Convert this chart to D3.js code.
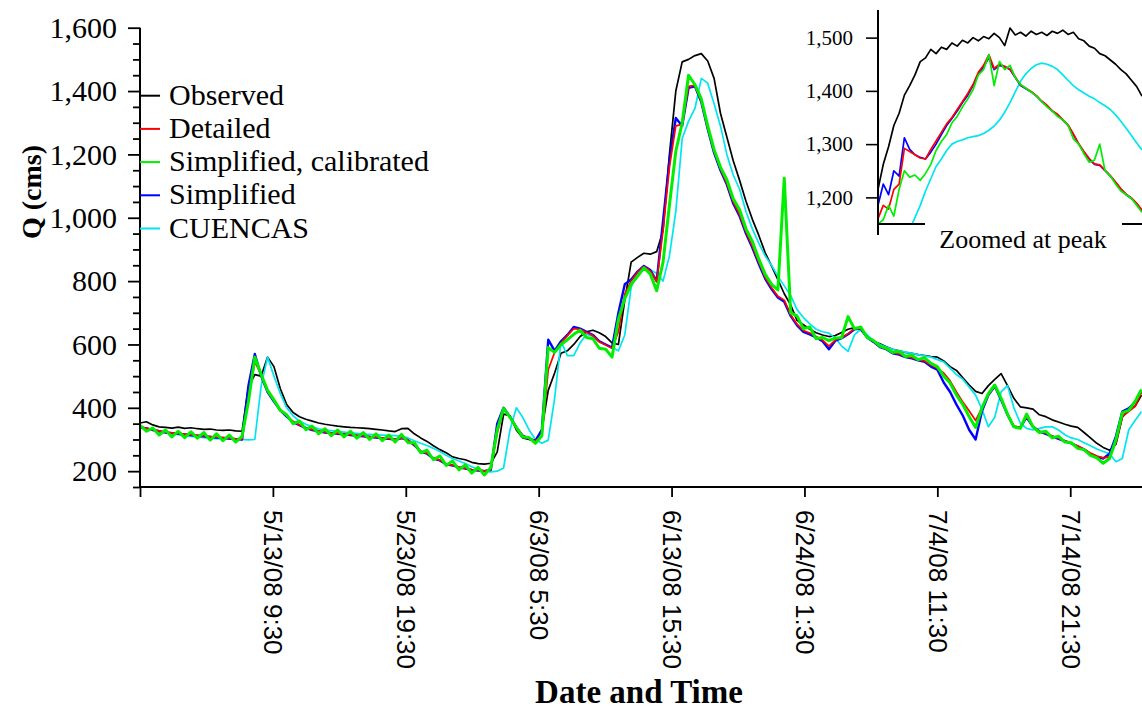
<!DOCTYPE html>
<html>
<head>
<meta charset="utf-8">
<script src="https://cdn.jsdelivr.net/npm/d3@7"></script>
<style>
body { margin: 0; background: #fff; }
svg { display: block; }
</style>
</head>
<body>
<div id="figure"></div>
<script>
// main series, one value every 12 hours starting 5/2/08 23:30
const startDate = new Date(2008, 4, 2, 23, 30);
const stepHours = 12;

const observed = [352,356,346,340,338,336,339,335,337,334,
  332,333,330,329,330,327,326,465,505,500,
  560,530,460,410,385,372,364,358,352,348,
  345,342,340,338,337,336,334,332,330,327,
  325,334,335,318,305,294,280,268,258,245,
  240,236,228,224,222,225,260,380,375,330,
  305,300,297,330,455,510,572,580,600,625,
  640,645,637,625,605,600,740,860,875,888,
  885,893,960,1200,1400,1492,1500,1512,1518,1495,
  1440,1330,1255,1180,1118,1052,995,945,890,848,
  805,760,725,676,662,648,637,630,625,628,
  638,648,653,645,624,610,602,593,585,580,
  575,572,568,565,562,560,548,530,518,495,
  472,452,445,470,490,508,470,430,403,400,
  396,378,372,362,355,348,342,338,322,305,
  288,275,266,285,370,395,405,440];

const detailed = [340,336,331,327,323,321,319,317,315,313,
  311,309,307,306,304,302,301,430,545,505,
  452,422,394,374,357,346,337,331,327,323,
  321,319,317,315,313,311,309,307,305,303,
  301,305,299,283,263,256,241,235,223,219,
  213,209,205,203,201,205,320,395,372,338,
  312,302,296,310,520,575,605,628,650,648,
  638,628,608,598,588,640,760,800,828,846,
  832,798,960,1160,1290,1295,1415,1418,1368,1284,
  1210,1154,1108,1050,1010,955,910,860,812,780,
  752,740,694,664,644,636,625,614,595,614,
  622,634,649,651,623,609,594,586,574,570,
  562,558,552,548,535,525,510,485,450,418,
  390,360,400,442,470,428,380,342,338,372,
  342,326,320,311,304,296,289,280,270,257,
  248,242,245,290,372,388,405,448];

const calibrated = [345,326,336,314,330,308,326,306,324,304,
  322,298,318,296,314,292,310,420,560,505,
  455,425,392,378,350,358,331,342,318,334,
  312,330,308,326,304,322,300,318,296,314,
  292,316,290,290,258,266,236,248,218,232,
  204,220,194,212,188,212,330,398,370,338,
  308,306,288,312,590,575,600,615,632,645,
  622,618,588,585,560,680,745,790,815,842,
  822,770,860,1040,1210,1300,1450,1420,1375,1290,
  1215,1160,1120,1060,1025,965,925,870,822,790,
  772,1125,700,690,650,655,618,622,612,620,
  622,688,650,655,622,612,595,588,575,578,
  562,566,552,558,540,530,500,478,440,410,
  372,338,400,445,472,430,380,340,335,380,
  340,322,326,305,310,292,290,272,268,250,
  242,225,240,300,385,392,420,458];

const simplified = [338,335,330,326,322,320,318,316,314,312,
  310,308,306,305,303,301,300,470,570,500,
  450,420,392,372,355,345,336,330,326,322,
  320,318,316,314,312,310,308,306,304,302,
  300,304,298,282,262,255,240,234,222,218,
  212,208,204,202,200,204,350,400,372,338,
  312,302,296,330,615,580,610,630,655,650,
  640,630,610,600,590,700,790,805,830,848,
  835,800,990,1180,1315,1290,1410,1415,1365,1280,
  1205,1150,1105,1045,1005,950,905,855,808,775,
  748,735,690,660,640,632,622,610,585,612,
  620,632,648,650,622,608,592,585,572,568,
  560,556,550,545,530,520,480,450,410,375,
  330,300,390,440,468,425,378,340,338,370,
  340,325,318,310,302,295,288,278,268,255,
  246,240,255,310,388,398,418,455];

const cuencas = [340,336,330,326,322,318,315,312,310,308,
  306,304,303,302,301,300,300,299,300,470,
  560,500,445,400,375,358,348,340,334,330,
  328,325,323,321,319,317,316,315,314,313,
  312,310,305,296,288,281,272,262,250,240,
  232,224,214,206,200,198,200,210,330,400,
  370,330,300,288,298,430,610,565,565,605,
  632,625,610,600,590,580,630,780,830,835,
  835,825,800,880,1020,1250,1305,1345,1440,1425,
  1360,1290,1200,1135,1090,1020,965,920,880,850,
  815,785,755,710,685,665,648,640,636,620,
  595,578,630,648,630,612,600,592,585,580,
  576,572,568,564,560,552,545,525,505,490,
  465,440,395,340,370,450,470,400,352,335,
  330,335,340,340,330,315,305,300,290,280,
  270,262,255,230,240,330,360,388];

// inset: one value every 1.5 hours starting 6/13/08 19:30
const peakStart = new Date(2008, 5, 13, 19, 30);
const peakStepHours = 1.5;

const peakObserved = [1215,1262,1295,1335,1358,1392,1410,1430,1455,1462,
  1478,1470,1482,1478,1490,1484,1495,1490,1500,1494,
  1502,1498,1508,1500,1485,1518,1505,1510,1503,1512,
  1506,1510,1504,1512,1508,1514,1506,1510,1498,1494,
  1484,1480,1470,1466,1458,1450,1440,1432,1420,1408,
  1390];
const peakDetailed = [1160,1185,1178,1215,1225,1292,1286,1280,1274,1272,
  1290,1306,1322,1338,1350,1365,1380,1395,1412,1435,
  1448,1468,1442,1450,1446,1441,1426,1411,1405,1399,
  1391,1381,1373,1363,1356,1346,1336,1319,1301,1286,
  1273,1263,1261,1251,1241,1229,1216,1206,1199,1189,
  1176];
const peakCalibrated = [1150,1158,1185,1165,1215,1250,1238,1242,1232,1245,
  1262,1288,1305,1318,1340,1352,1370,1385,1402,1430,
  1440,1468,1410,1455,1440,1448,1425,1412,1405,1398,
  1390,1380,1370,1362,1352,1346,1335,1310,1300,1282,
  1266,1270,1300,1250,1240,1225,1212,1205,1198,1185,
  1172];
const peakSimplified = [1185,1225,1205,1250,1240,1312,1290,1280,1275,1272,
  1285,1300,1318,1335,1348,1362,1378,1392,1410,1432,
  1445,1462,1440,1448,1445,1440,1425,1410,1404,1398,
  1390,1380,1372,1362,1355,1345,1335,1318,1300,1285,
  1272,1262,1260,1250,1240,1228,1215,1205,1198,1188,
  1175];
const peakCuencas = [1020,1040,1060,1080,1100,1120,1140,1162,1185,1212,
  1235,1258,1272,1288,1300,1305,1308,1312,1314,1316,
  1320,1326,1334,1345,1360,1378,1398,1418,1432,1442,
  1449,1452,1450,1446,1440,1430,1420,1410,1402,1396,
  1390,1385,1378,1372,1365,1355,1343,1330,1316,1302,
  1289];

const seriesNames = ["Observed", "Detailed", "Simplified, calibrated", "Simplified", "CUENCAS"];
const seriesColors = ["#000000", "#ff0000", "#00ee00", "#0000ff", "#00e5ee"];
const yTicks = [150,200,250,300,350,400,450,500,550,600,650,700,750,800,850,900,950,1000,
  1050,1100,1150,1200,1250,1300,1350,1400,1450,1500,1550,1600];
const peakTicks = [1200, 1300, 1400, 1500];

const hour = 3600 * 1000;
const serif = '"Liberation Serif", "Times New Roman", serif';
const sans = '"Liberation Sans", Arial, sans-serif';

const width = 1142, height = 710;
const svg = d3.select("#figure").append("svg")
    .attr("width", width)
    .attr("height", height);

// main scales
const x = d3.scaleTime()
    .domain([startDate, new Date(+startDate + 1885 * hour)])
    .range([140, 1142]);
const y = d3.scaleLinear().domain([150, 1600]).range([487, 27.7]);

svg.append("clipPath").attr("id", "mainClip")
  .append("rect").attr("x", 140).attr("y", 0).attr("width", 1002).attr("height", 487);

function toRows(values, start, step) {
    return values.map((v, i) => ({ t: new Date(+start + i * step * hour), v: v }));
}

const mainData = [observed, detailed, calibrated, simplified, cuencas]
    .map(s => toRows(s, startDate, stepHours));
const drawOrder = [0, 4, 3, 1, 2];
const widths = [1.7, 1.7, 3, 2.4, 1.7];

const line = d3.line().x(d => x(d.t)).y(d => y(d.v));
const plot = svg.append("g").attr("clip-path", "url(#mainClip)");
drawOrder.forEach(k => {
    plot.append("path")
        .datum(mainData[k])
        .attr("fill", "none")
        .attr("stroke", seriesColors[k])
        .attr("stroke-width", widths[k])
        .attr("stroke-linejoin", "round")
        .attr("d", line);
});

// y axis
const yAxis = svg.append("g")
    .attr("transform", "translate(140,0)")
    .call(d3.axisLeft(y).tickValues(yTicks).tickSize(12).tickPadding(11)
        .tickFormat(d => d % 200 === 0 ? d3.format(",")(d) : ""));
yAxis.attr("font-family", null);
yAxis.select(".domain").remove();
yAxis.selectAll(".tick line")
    .attr("x2", d => d % 200 === 0 ? -12 : -7)
    .attr("stroke-width", 1.8);
yAxis.selectAll(".tick text")
    .attr("font-family", serif)
    .attr("font-size", 30)
    .attr("fill", "#000");
svg.append("line")
    .attr("x1", 140).attr("x2", 140)
    .attr("y1", y(1600)).attr("y2", 488)
    .attr("stroke", "#000").attr("stroke-width", 2);

// x axis
const xTicks = d3.range(8).map(k => new Date(+startDate + k * 250 * hour));
const fmt = d3.timeFormat("%-m/%-d/%y %-H:%M");
const xAxis = svg.append("g")
    .attr("transform", "translate(0,487)")
    .call(d3.axisBottom(x).tickValues(xTicks).tickSize(10)
        .tickFormat((d, i) => i === 0 ? "" : fmt(d)));
xAxis.attr("font-family", null);
xAxis.select(".domain").remove();
xAxis.selectAll(".tick line").attr("stroke-width", 1.8);
xAxis.selectAll(".tick text")
    .attr("x", 0).attr("y", 0).attr("dy", "0.35em")
    .attr("transform", "translate(0,23) rotate(90)")
    .attr("text-anchor", "start")
    .attr("font-family", sans)
    .attr("font-size", 26)
    .attr("fill", "#000");
svg.append("line")
    .attr("x1", 139).attr("x2", 1142)
    .attr("y1", 487).attr("y2", 487)
    .attr("stroke", "#000").attr("stroke-width", 2);

// axis titles
svg.append("text")
    .attr("transform", "translate(31,192) rotate(-90)")
    .attr("text-anchor", "middle")
    .attr("dy", "0.35em")
    .attr("font-family", serif)
    .attr("font-weight", "bold")
    .attr("font-size", 28)
    .text("Q (cms)");
svg.append("text")
    .attr("x", 639).attr("y", 703)
    .attr("text-anchor", "middle")
    .attr("font-family", serif)
    .attr("font-weight", "bold")
    .attr("font-size", 33)
    .text("Date and Time");

// legend
const legend = svg.append("g");
seriesNames.forEach((name, i) => {
    const ly = 95.7 + i * 33.2;
    legend.append("line")
        .attr("x1", 140).attr("x2", 160)
        .attr("y1", ly).attr("y2", ly)
        .attr("stroke", seriesColors[i]).attr("stroke-width", 2);
    legend.append("text")
        .attr("x", 169).attr("y", ly + 9)
        .attr("font-family", serif)
        .attr("font-size", 30)
        .text(name);
});

// inset zoomed at peak
const px = d3.scaleTime()
    .domain([peakStart, new Date(+peakStart + 75 * hour)])
    .range([878, 1142]);
const py = d3.scaleLinear().domain([1150, 1550]).range([224, 11]);

svg.append("clipPath").attr("id", "insetClip")
  .append("rect").attr("x", 878).attr("y", 10).attr("width", 264).attr("height", 214);

const peakData = [peakObserved, peakDetailed, peakCalibrated, peakSimplified, peakCuencas]
    .map(s => toRows(s, peakStart, peakStepHours));
const pline = d3.line().x(d => px(d.t)).y(d => py(d.v));
const inset = svg.append("g").attr("clip-path", "url(#insetClip)");
drawOrder.forEach(k => {
    inset.append("path")
        .datum(peakData[k])
        .attr("fill", "none")
        .attr("stroke", seriesColors[k])
        .attr("stroke-width", 1.7)
        .attr("stroke-linejoin", "round")
        .attr("d", pline);
});

const pAxis = svg.append("g")
    .attr("transform", "translate(878,0)")
    .call(d3.axisLeft(py).tickValues(peakTicks).tickSize(12).tickPadding(13)
        .tickFormat(d3.format(",")));
pAxis.attr("font-family", null);
pAxis.select(".domain").remove();
pAxis.selectAll(".tick line").attr("stroke-width", 1.6);
pAxis.selectAll(".tick text")
    .attr("font-family", serif)
    .attr("font-size", 21)
    .attr("fill", "#000");
svg.append("line")
    .attr("x1", 878).attr("x2", 878)
    .attr("y1", 10).attr("y2", 235)
    .attr("stroke", "#000").attr("stroke-width", 2);
svg.append("line")
    .attr("x1", 877).attr("x2", 1142)
    .attr("y1", 224).attr("y2", 224)
    .attr("stroke", "#000").attr("stroke-width", 2);
svg.append("rect")
    .attr("x", 925).attr("y", 221).attr("width", 197).attr("height", 34)
    .attr("fill", "#fff");
svg.append("text")
    .attr("x", 1023).attr("y", 248)
    .attr("text-anchor", "middle")
    .attr("font-family", serif)
    .attr("font-size", 26)
    .text("Zoomed at peak");
</script>
</body>
</html>
